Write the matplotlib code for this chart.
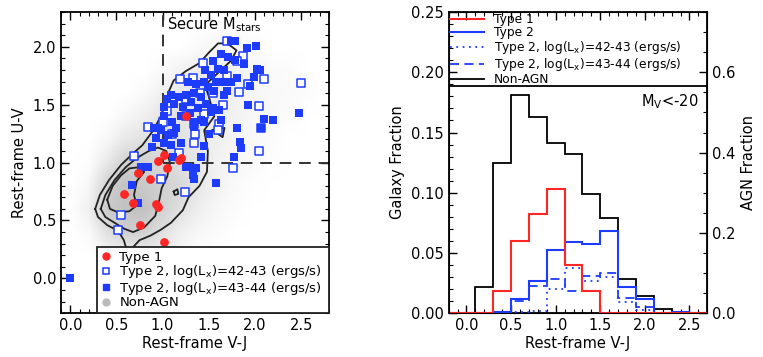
import numpy as np
import matplotlib
matplotlib.use("Agg")
import matplotlib.pyplot as plt
from matplotlib.colors import LinearSegmentedColormap
from matplotlib.lines import Line2D
from matplotlib.ticker import MultipleLocator, FormatStrFormatter

# ---------------- data: left panel ----------------
type1_vj = [1.25, 1.02, 0.95, 1.05, 1.18, 1.20, 0.86, 0.73, 0.58, 0.68, 0.93, 0.95, 0.76, 1.01]
type1_uv = [1.40, 1.07, 1.01, 0.95, 1.02, 1.04, 0.86, 0.91, 0.73, 0.65, 0.64, 0.62, 0.46, 0.31]

lowlx_vj = [1.70, 1.87, 1.44, 1.19, 1.33, 2.10, 1.92, 2.50, 1.83, 2.04, 1.61, 1.34, 2.06, 1.34,
            2.04, 0.84, 0.69, 0.98, 1.24, 1.76, 0.55, 0.52, 1.05, 1.25, 1.45, 1.55, 1.25, 1.60,
            1.18, 1.10, 1.35, 1.70, 1.40, 1.00, 1.65, 1.80]
lowlx_uv = [2.05, 1.92, 1.86, 1.72, 1.73, 1.72, 1.68, 1.69, 1.61, 1.49, 1.33, 1.33, 1.30, 1.17,
            1.10, 1.31, 1.06, 0.86, 0.75, 0.95, 0.55, 0.42, 1.45, 1.40, 1.42, 1.60, 1.55, 1.28,
            1.08, 1.25, 1.25, 1.75, 1.60, 1.35, 1.50, 1.88]

highlx_vj = [1.78, 1.74, 1.915, 2.01, 1.63, 1.705, 1.78, 1.60, 1.67, 1.81, 1.74, 1.52, 1.45, 1.49,
             1.415, 1.34, 1.307, 1.25, 1.18, 1.09, 1.126, 1.217, 1.38, 1.47, 1.52, 1.61, 1.63,
             1.415, 1.34, 1.017, 0.909, 0.98, 1.054, 0.927, 1.017, 1.126, 1.09, 0.89, 1.198,
             1.34, 1.45, 1.92, 2.10, 2.19, 2.48, 2.066, 1.81, 1.84, 1.85, 1.77, 1.45, 1.415,
             1.108, 1.36, 1.325, 1.343, 1.578, 0.765, 0.837, 0.664, 0.728, 1.253, 1.27, 0.0,
             2.02, 1.99, 1.95, 2.05, 1.56, 1.58, 1.70, 1.66, 1.20, 1.30, 1.10, 1.02, 1.88,
             1.55, 1.66, 1.46, 1.36, 1.28, 1.05, 0.95, 1.15, 1.50, 1.55]
highlx_uv = [2.05, 2.05, 1.99, 2.01, 1.94, 1.91, 1.885, 1.81, 1.80, 1.73, 1.70, 1.755, 1.70, 1.655,
             1.57, 1.60, 1.526, 1.58, 1.57, 1.58, 1.51, 1.48, 1.47, 1.51, 1.44, 1.455, 1.37,
             1.37, 1.353, 1.40, 1.30, 1.28, 1.24, 1.21, 1.167, 1.253, 1.15, 1.138, 1.167,
             1.31, 1.353, 1.497, 1.38, 1.37, 1.425, 1.297, 1.297, 1.18, 1.13, 1.05, 1.14, 1.05,
             1.05, 0.95, 0.894, 0.857, 0.828, 0.966, 0.966, 0.808, 0.65, 0.966, 0.966, 0.0,
             1.81, 1.74, 1.66, 1.80, 1.62, 1.70, 1.62, 1.58, 1.40, 1.43, 1.35, 1.48, 1.85,
             1.88, 1.70, 1.80, 1.68, 1.70, 1.55, 1.30, 1.30, 1.25, 1.47]

# non-AGN density read off the grey cloud (cells 0.2 wide)
dens_vj = np.arange(0.0, 2.81, 0.2)   # 15 columns
dens_uv = np.arange(-0.2, 2.21, 0.2)  # 13 rows
nonagn_density = [
    [0, 0, 0, 0, 0, 0, 0, 0, 0, 0, 0, 0, 0, 0, 0],
    [0, 0, 0, 0, 0, 0, 0, 0, 0, 0, 0, 0, 0, 0, 0],
    [0, 0, 0.5, 1, 1, 1, 0.5, 0, 0, 0, 0, 0, 0, 0, 0],
    [0, 0.3, 2, 3, 3, 2, 1, 0.5, 0.2, 0, 0, 0, 0, 0, 0],
    [0, 1, 3.5, 4, 4, 3, 2, 1, 0.5, 0.2, 0, 0, 0, 0, 0],
    [0, 0.5, 3, 4, 3.5, 3, 2.5, 1.5, 0.8, 0.3, 0.1, 0, 0, 0, 0],
    [0, 0.1, 1.5, 3, 3, 2.5, 2, 1.5, 0.8, 0.5, 0.3, 0.1, 0, 0, 0],
    [0, 0, 0.5, 1.5, 2, 2, 1.8, 1.5, 1, 0.6, 0.4, 0.2, 0, 0, 0],
    [0, 0, 0, 0.5, 1, 1.8, 1.8, 1.5, 1.2, 0.8, 0.5, 0.3, 0.2, 0, 0],
    [0, 0, 0, 0, 0.3, 1, 1.5, 1.5, 1.2, 0.8, 0.6, 0.4, 0.3, 0.2, 0],
    [0, 0, 0, 0, 0, 0.3, 0.8, 1.2, 1.2, 0.8, 0.5, 0.3, 0.2, 0, 0],
    [0, 0, 0, 0, 0, 0, 0, 0.3, 0.6, 0.4, 0.2, 0, 0, 0, 0],
    [0, 0, 0, 0, 0, 0, 0, 0, 0, 0, 0, 0, 0, 0, 0],
]

# density contours (V-J, U-V)
contour_outer = [(0.27, 0.60), (0.32, 0.72), (0.42, 0.85), (0.55, 0.98), (0.68, 1.08), (0.78, 1.15),
                 (0.90, 1.28), (0.98, 1.40), (1.03, 1.52), (1.07, 1.62), (1.12, 1.71), (1.25, 1.79),
                 (1.40, 1.86), (1.50, 1.95), (1.60, 2.03), (1.70, 2.03), (1.80, 1.97), (1.74, 1.88),
                 (1.58, 1.76), (1.46, 1.67), (1.50, 1.57), (1.56, 1.40), (1.45, 1.28), (1.49, 1.10),
                 (1.48, 0.92), (1.40, 0.80), (1.28, 0.70), (1.22, 0.59), (1.09, 0.48), (0.98, 0.42),
                 (0.87, 0.37), (0.75, 0.33), (0.68, 0.27), (0.62, 0.22), (0.58, 0.33), (0.52, 0.41),
                 (0.40, 0.46), (0.30, 0.53), (0.27, 0.60)]
contour_mid = [(0.33, 0.60), (0.38, 0.72), (0.48, 0.85), (0.60, 0.96), (0.72, 1.04), (0.85, 1.10),
               (0.95, 1.13), (1.04, 1.10), (1.08, 1.00), (1.05, 0.88), (0.99, 0.78), (0.96, 0.66),
               (0.92, 0.54), (0.80, 0.44), (0.68, 0.40), (0.58, 0.43), (0.48, 0.48), (0.38, 0.53),
               (0.33, 0.60)]
contour_inner = [(0.40, 0.68), (0.46, 0.80), (0.55, 0.89), (0.64, 0.95), (0.74, 0.96), (0.80, 0.92),
                 (0.72, 0.84), (0.69, 0.72), (0.72, 0.63), (0.64, 0.58), (0.52, 0.57), (0.43, 0.60),
                 (0.40, 0.68)]
contour_small1 = [(1.54, 1.28), (1.67, 1.30), (1.65, 1.22), (1.54, 1.28)]
contour_small2 = [(1.12, 0.75), (1.16, 0.77), (1.17, 0.73), (1.13, 0.72), (1.12, 0.75)]

# ---------------- data: right panel ----------------
bin_edges = [-0.3, -0.1, 0.1, 0.3, 0.5, 0.7, 0.9, 1.1, 1.3, 1.5, 1.7, 1.9, 2.1, 2.3, 2.5, 2.7, 2.9]
nonagn_frac = [0, 0, 0.0215, 0.125, 0.181, 0.163, 0.141, 0.132, 0.099, 0.079, 0.028, 0.0145, 0.003, 0, 0, 0]
type1_frac = [0, 0, 0, 0.054, 0.18, 0.246, 0.309, 0.12, 0.054, 0, 0, 0, 0, 0, 0, 0]
type2_frac = [0, 0, 0, 0.003, 0.034, 0.081, 0.158, 0.177, 0.173, 0.204, 0.066, 0.036, 0, 0.003, 0, 0]
type2_low_frac = [0, 0, 0, 0, 0.003, 0.004, 0.059, 0.113, 0.081, 0.09, 0.028, 0.008, 0, 0, 0, 0]
type2_high_frac = [0, 0, 0, 0, 0.03, 0.068, 0.086, 0.056, 0.093, 0.10, 0.037, 0.015, 0, 0, 0, 0]

RED = "#ff2626"
BLUE = "#1e3cff"
FS = 10.5

plt.rcParams['font.family'] = ['DejaVu Sans']
fig = plt.figure(figsize=(7.63, 3.57), dpi=100)

# ================= left panel =================
ax1 = fig.add_axes([0.080, 0.123, 0.351, 0.843])
cmap = LinearSegmentedColormap.from_list("g", ["#ffffff", "#c2c2c2"])
ax1.imshow(np.array(nonagn_density), extent=(dens_vj[0] - 0.1, dens_vj[-1] + 0.1,
                                                dens_uv[0] - 0.1, dens_uv[-1] + 0.1),
           origin='lower', cmap=cmap, vmin=0, vmax=4, interpolation='bilinear',
           aspect='auto', zorder=0)
for c in (contour_outer, contour_mid, contour_inner, contour_small1, contour_small2):
    xs, ys = zip(*c)
    ax1.plot(xs, ys, color='#222222', lw=1.3, zorder=1)

ax1.plot([1.0, 1.0], [1.0, 2.3], color='#333333', lw=1.4, dashes=(6, 4), zorder=2)
ax1.plot([1.0, 2.8], [1.0, 1.0], color='#333333', lw=1.4, dashes=(6, 4), zorder=2)

ax1.scatter(lowlx_vj, lowlx_uv, marker='s', s=40, facecolors='white', edgecolors=BLUE,
            linewidths=1.1, zorder=3)
ax1.scatter(highlx_vj, highlx_uv, marker='s', s=40, color=BLUE, linewidths=0, zorder=4)
ax1.scatter(type1_vj, type1_uv, marker='o', s=40, color=RED, linewidths=0, zorder=5)

ax1.text(1.05, 2.27, 'Secure M$_{\\rm stars}$', fontsize=FS, va='top', ha='left')

ax1.set_xlim(-0.1, 2.8)
ax1.set_ylim(-0.3, 2.3)
ax1.xaxis.set_major_locator(MultipleLocator(0.5))
ax1.xaxis.set_minor_locator(MultipleLocator(0.1))
ax1.yaxis.set_major_locator(MultipleLocator(0.5))
ax1.yaxis.set_minor_locator(MultipleLocator(0.1))
ax1.set_xlabel('Rest-frame V-J', fontsize=FS, labelpad=2)
ax1.set_ylabel('Rest-frame U-V', fontsize=FS, labelpad=4)

handles1 = [
    Line2D([], [], marker='o', ls='none', color=RED, markersize=5),
    Line2D([], [], marker='s', ls='none', markerfacecolor='white', markeredgecolor=BLUE,
           markeredgewidth=1.1, markersize=5),
    Line2D([], [], marker='s', ls='none', color=BLUE, markersize=5),
    Line2D([], [], marker='o', ls='none', color='#bbbbbb', markersize=5),
]
labels1 = ['Type 1', 'Type 2, log(L$_{\\rm x}$)=42-43 (ergs/s)',
           'Type 2, log(L$_{\\rm x}$)=43-44 (ergs/s)', 'Non-AGN']
leg1 = ax1.legend(handles1, labels1, loc='lower left', bbox_to_anchor=(0.134, 0.0, 0.866, 0.226),
                  mode='expand', borderaxespad=0, fontsize=9.5, handlelength=0.8,
                  handletextpad=0.6, labelspacing=-0.05, borderpad=0.3, fancybox=False,
                  framealpha=1)
leg1.get_frame().set_edgecolor('#222222')
leg1.get_frame().set_linewidth(1.3)

# ================= right panel =================
ax2 = fig.add_axes([0.588, 0.123, 0.339, 0.843])
ax3 = ax2.twinx()
ax2.stairs(nonagn_frac, bin_edges, color='black', lw=1.3, zorder=2)
ax3.stairs(type2_low_frac, bin_edges, color=BLUE, lw=1.3, linestyle=(0, (1, 2.5)))
ax3.stairs(type2_high_frac, bin_edges, color=BLUE, lw=1.3, linestyle=(0, (5, 3)))
ax3.stairs(type2_frac, bin_edges, color=BLUE, lw=1.5)
ax3.stairs(type1_frac, bin_edges, color=RED, lw=1.5)

ax2.axhline(0.189, color='black', lw=1.3)
ax2.text(2.6, 0.183, 'M$_{\\rm V}$<-20', fontsize=FS, ha='right', va='top')

ax2.set_xlim(-0.2, 2.7)
ax2.set_ylim(0, 0.25)
ax3.set_ylim(0, 0.75)
ax2.xaxis.set_major_locator(MultipleLocator(0.5))
ax2.xaxis.set_minor_locator(MultipleLocator(0.1))
ax2.yaxis.set_major_locator(MultipleLocator(0.05))
ax2.yaxis.set_minor_locator(MultipleLocator(0.01))
ax3.yaxis.set_major_locator(MultipleLocator(0.2))
ax3.yaxis.set_minor_locator(MultipleLocator(0.05))
ax2.yaxis.set_major_formatter(FormatStrFormatter('%.2f'))
ax3.yaxis.set_major_formatter(FormatStrFormatter('%.1f'))
ax3.set_yticks([0.0, 0.2, 0.4, 0.6])
ax2.set_xlabel('Rest-frame V-J', fontsize=FS, labelpad=2)
ax2.set_ylabel('Galaxy Fraction', fontsize=FS, labelpad=4)
ax3.set_ylabel('AGN Fraction', fontsize=FS, labelpad=4)

handles2 = [Line2D([], [], color=RED, lw=1.5),
            Line2D([], [], color=BLUE, lw=1.5),
            Line2D([], [], color=BLUE, lw=1.3, linestyle=(0, (1, 2.5))),
            Line2D([], [], color=BLUE, lw=1.3, linestyle=(0, (5, 3))),
            Line2D([], [], color='black', lw=1.3)]
labels2 = ['Type 1', 'Type 2', 'Type 2, log(L$_{\\rm x}$)=42-43 (ergs/s)',
           'Type 2, log(L$_{\\rm x}$)=43-44 (ergs/s)', 'Non-AGN']
leg2 = ax3.legend(handles2, labels2, loc='upper left', bbox_to_anchor=(0.0, 1.0),
                  frameon=False, fontsize=8.8, handlelength=2.8, handletextpad=0.8,
                  labelspacing=0.0, borderpad=0.0, borderaxespad=0.1)

for ax in (ax1, ax2):
    ax.tick_params(which='both', direction='in', top=True, right=(ax is ax1), labelsize=FS)
    ax.tick_params(which='major', length=6, width=1)
    ax.tick_params(which='minor', length=3, width=0.8)
    for s in ax.spines.values():
        s.set_linewidth(1.3)
ax3.tick_params(which='both', direction='in', labelsize=FS)
ax3.tick_params(which='major', length=6, width=1)
ax3.tick_params(which='minor', length=3, width=0.8)

fig.savefig('out.png', dpi=100)
